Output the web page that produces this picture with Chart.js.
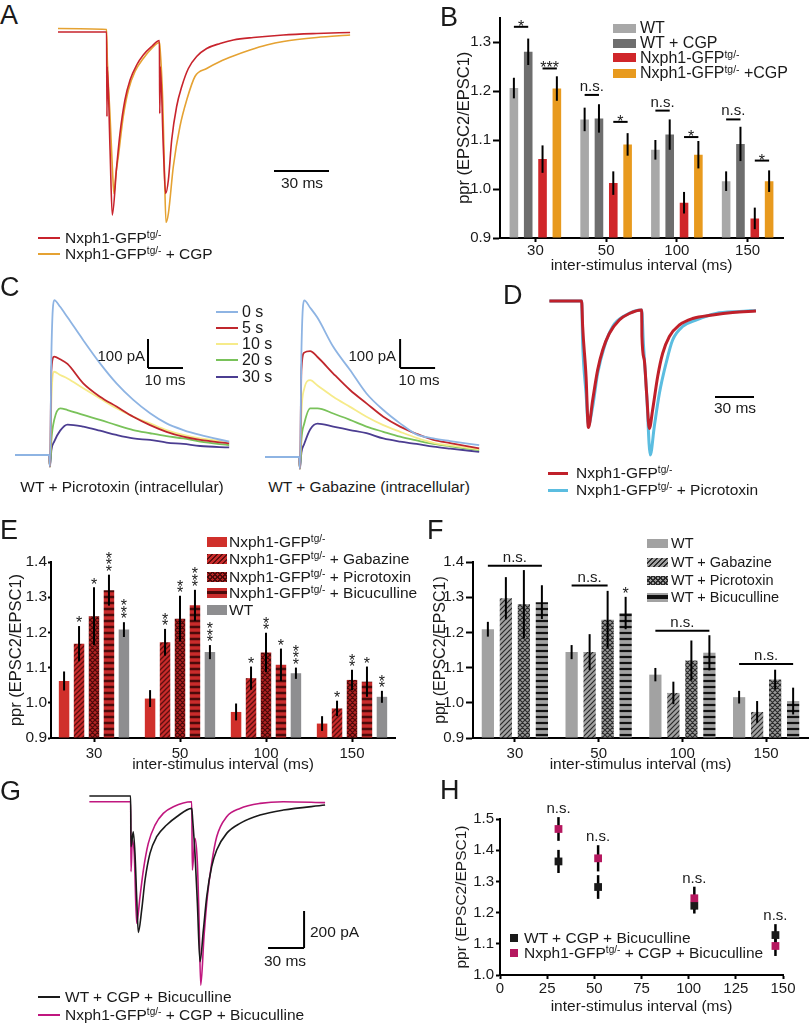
<!DOCTYPE html>
<html>
<head>
<meta charset="utf-8">
<script src="https://cdn.jsdelivr.net/npm/chart.js@4.4.0/dist/chart.umd.min.js"></script>
<style>
  body { margin: 0; width: 812px; height: 1025px; position: relative; overflow: hidden; background: #fff;
         font-family: 'Liberation Sans', Arial, Helvetica, sans-serif; color: #1a1a1a; }
  canvas { position: absolute; }
  .t { position: absolute; white-space: nowrap; line-height: 1; }
  .sw { position: absolute; }
  .L { position: absolute; font-size: 27px; line-height: 1; }
  sup { font-size: 0.65em; line-height: 0; vertical-align: 0.5em; }
</style>
</head>
<body>
<script>
const FONT = "'Liberation Sans', Arial, Helvetica, sans-serif";
Chart.defaults.font.family = FONT;
Chart.defaults.color = '#1a1a1a';

// ---------- A: traces (ms, pA) ----------
const aRedT = [0, 26.5, 26.7, 26.9, 28.4, 29.6, 32.0, 33.8, 36.5, 39.3, 42.9, 46.5, 51.1, 55.3, 55.5, 55.8, 57.5, 58.7, 60.2, 62.0, 64.7, 67.5, 71.1, 75.6, 81.1, 88.4, 95.6, 106.5, 122.9, 141.1, 159.3];
const aRedI = [0, 0, -169, -69, -236, -366, -269, -203, -136, -96, -66, -46, -29, -17, -163, -69, -236, -323, -296, -216, -149, -109, -73, -49, -33, -23, -16, -11, -6, -3, -1];
const aCgpT = [0, 26.5, 26.9, 28.4, 29.8, 30.5, 31.6, 32.9, 35.6, 38.4, 42.0, 46.5, 51.1, 55.3, 55.6, 57.1, 58.0, 58.9, 60.2, 62.9, 66.5, 70.2, 74.7, 81.1, 88.4, 95.6, 104.7, 113.8, 122.9, 141.1, 159.3];
const aCgpI = [7, 5, -56, -169, -283, -323, -283, -249, -169, -116, -79, -53, -33, -21, -29, -136, -269, -381, -363, -269, -189, -136, -89, -73, -59, -48, -36, -26, -19, -11, -6];

// ---------- B: bars ----------
const intervals = ['30', '50', '100', '150'];
const bWT = [1.206, 1.142, 1.080, 1.016];
const bWTErr = [0.021, 0.024, 0.020, 0.020];
const bCGP = [1.280, 1.144, 1.111, 1.092];
const bCGPErr = [0.027, 0.029, 0.031, 0.035];
const bNx = [1.061, 1.012, 0.972, 0.940];
const bNxErr = [0.028, 0.024, 0.022, 0.022];
const bNxCGP = [1.205, 1.091, 1.070, 1.016];
const bNxCGPErr = [0.025, 0.023, 0.028, 0.022];
// [interval index, first bar, last bar, height, label]
const bSig = [[0, 0, 1, 1.331, '*'], [0, 2, 3, 1.246, '***'], [1, 0, 1, 1.192, 'n.s.'], [1, 2, 3, 1.137, '*'],
              [2, 0, 1, 1.160, 'n.s.'], [2, 2, 3, 1.106, '*'], [3, 0, 1, 1.142, 'n.s.'], [3, 2, 3, 1.058, '*']];

// ---------- C: traces (ms, pA) ----------
const cTime = [-10, -0.3, 0, 0.4, 1.2, 2.9, 5, 9.5, 14.3, 19, 23.8, 28.6, 33.3, 38.1, 42.9, 51.2];
const cPic0 = [0, 0, -40, 350, 534, 511, 475, 396, 316, 247, 190, 144, 109, 86, 69, 46];
const cPic5 = [0, 0, -40, 293, 339, 330, 314, 247, 201, 167, 132, 103, 80, 63, 52, 40];
const cPic10 = [0, 0, -40, 190, 287, 276, 264, 230, 195, 161, 132, 109, 86, 69, 57, 46];
const cPic20 = [0, 0, -40, 52, 121, 161, 155, 138, 121, 103, 86, 75, 65, 57, 46, 34];
const cPic30 = [0, 0, -40, 17, 46, 84, 105, 98, 84, 69, 57, 52, 43, 38, 31, 26];
const cGab0 = [0, 0, -40, 360, 540, 515, 480, 380, 300, 219, 162, 116, 78, 64, 55, 41];
const cGab5 = [0, 0, -40, 300, 360, 365, 345, 288, 231, 185, 139, 105, 80, 59, 48, 30];
const cGab10 = [0, 0, -40, 150, 235, 265, 247, 208, 173, 139, 110, 87, 66, 49, 40, 26];
const cGab20 = [0, 0, -40, 60, 115, 168, 168, 150, 128, 105, 87, 70, 57, 45, 37, 24];
const cGab30 = [0, 0, -40, 15, 45, 95, 115, 105, 93, 82, 64, 53, 45, 36, 29, 18];
const cTimes = ['0 s', '5 s', '10 s', '20 s', '30 s'];
const cColors = ['#8eb4e3', '#c0272d', '#f6eb8a', '#79c25a', '#4b3d91'];

// ---------- D: traces (ms, pA) ----------
const dRedT = [0.3, 25.1, 25.9, 28.5, 30.3, 33.6, 37.4, 41.3, 46.4, 54.1, 61.8, 71.3, 71.5, 73.3, 75.1, 77.2, 79.7, 83.6, 87.4, 92.6, 100.3, 110.5, 125.9, 141.3, 159.2];
const dRedI = [0, 0, -51, -151, -253, -198, -138, -98, -65, -38, -25, -18, -71, -118, -185, -255, -218, -151, -105, -71, -48, -35, -28, -23, -20];
const dPicT = [0.3, 25.1, 25.9, 28.5, 30.3, 33.6, 37.4, 42.6, 49.0, 59.2, 71.3, 72.6, 75.1, 77.9, 81.0, 84.9, 90.0, 95.1, 102.8, 113.1, 128.5, 146.4, 159.2];
const dPicI = [0, 0, -85, -185, -248, -211, -145, -91, -51, -28, -18, -85, -185, -308, -251, -185, -125, -78, -51, -38, -25, -21, -19];

// ---------- E: bars ----------
const eNx = [1.062, 1.012, 0.974, 0.941];
const eNxErr = [0.027, 0.024, 0.024, 0.021];
const eGab = [1.168, 1.172, 1.070, 0.984];
const eGabErr = [0.050, 0.038, 0.033, 0.022];
const eGabStars = ['*', '**', '*', '*'];
const ePic = [1.246, 1.239, 1.143, 1.065];
const ePicErr = [0.082, 0.065, 0.056, 0.029];
const ePicStars = ['*', '**', '**', '**'];
const eBic = [1.320, 1.277, 1.108, 1.060];
const eBicErr = [0.044, 0.044, 0.046, 0.043];
const eBicStars = ['***', '***', '*', '*'];
const eWT = [1.208, 1.144, 1.084, 1.017];
const eWTErr = [0.021, 0.020, 0.016, 0.017];
const eWTStars = ['***', '***', '***', '**'];

// ---------- F: bars ----------
const fWT = [1.209, 1.144, 1.080, 1.016];
const fWTErr = [0.021, 0.020, 0.019, 0.018];
const fGab = [1.297, 1.144, 1.028, 0.974];
const fGabErr = [0.060, 0.051, 0.032, 0.031];
const fPic = [1.280, 1.236, 1.120, 1.066];
const fPicErr = [0.097, 0.082, 0.057, 0.028];
const fBic = [1.286, 1.255, 1.142, 1.005];
const fBicErr = [0.048, 0.046, 0.050, 0.038];
const fBicStars = ['', '*', '', ''];
const fSig = [[0, 0, 3, 1.389, 'n.s.'], [1, 0, 2, 1.333, 'n.s.'], [2, 0, 3, 1.205, 'n.s.'], [3, 0, 3, 1.110, 'n.s.']];

// ---------- G: traces (ms, pA) ----------
const gWTT = [0.3, 34.7, 35.0, 36.9, 38.3, 39.7, 41.1, 43.9, 46.7, 50.8, 56.4, 64.7, 73.1, 85.6, 86.4, 88.3, 90.3, 92.5, 95.3, 98.1, 102.2, 106.4, 114.7, 125.8, 142.5, 161.9, 196.7];
const gWTI = [0, 0, -274, -193, -310, -544, -737, -616, -454, -310, -220, -157, -112, -67, -130, -310, -580, -896, -724, -544, -382, -292, -202, -148, -103, -76, -49];
const gNxT = [0.3, 34.7, 35.0, 36.1, 37.8, 39.7, 42.5, 45.3, 49.4, 55.0, 61.9, 70.3, 85.6, 86.1, 88.3, 90.3, 91.7, 93.1, 95.8, 98.6, 102.2, 106.4, 114.7, 125.8, 142.5, 161.9, 196.7];
const gNxI = [-31, -31, -409, -238, -328, -688, -544, -400, -256, -157, -94, -58, -31, -400, -229, -364, -670, -1022, -760, -544, -364, -220, -112, -67, -40, -31, -36];

// ---------- H: points ----------
const hISI = [31, 52, 103, 146];
const hWT = [1.364, 1.282, 1.222, 1.128];
const hWTErr = [0.037, 0.038, 0.025, 0.035];
const hNx = [1.468, 1.374, 1.246, 1.093];
const hNxErr = [0.038, 0.042, 0.037, 0.032];
const hSig = ['n.s.', 'n.s.', 'n.s.', 'n.s.'];

// ---------- helpers ----------
function addCanvas(id, left, top, w, h) {
    const c = document.createElement('canvas');
    c.id = id;
    c.width = w;
    c.height = h;
    c.style.left = left + 'px';
    c.style.top = top + 'px';
    document.body.appendChild(c);
    return c.getContext('2d');
}

function txt(html, x, y, size, align) {
    const d = document.createElement('div');
    d.className = 't';
    d.innerHTML = html;
    d.style.left = x + 'px';
    d.style.top = y + 'px';
    d.style.fontSize = size + 'px';
    const tx = align === 'c' ? '-50%' : align === 'r' ? '-100%' : '0';
    d.style.transform = `translate(${tx}, -50%)`;
    document.body.appendChild(d);
}

function swatch(x, y, w, h, bg) {
    const d = document.createElement('div');
    d.className = 'sw';
    d.style.left = x + 'px';
    d.style.top = (y - h / 2) + 'px';
    d.style.width = w + 'px';
    d.style.height = h + 'px';
    d.style.background = bg;
    document.body.appendChild(d);
}

function letter(ch, x, y) {
    const d = document.createElement('div');
    d.className = 'L';
    d.textContent = ch;
    d.style.left = x + 'px';
    d.style.top = y + 'px';
    d.style.transform = 'translateY(-50%)';
    document.body.appendChild(d);
}

function makePattern(base, line, kind, size, lw) {
    const c = document.createElement('canvas');
    c.width = size;
    c.height = size;
    const g = c.getContext('2d');
    g.fillStyle = base;
    g.fillRect(0, 0, size, size);
    g.strokeStyle = line;
    g.fillStyle = line;
    g.lineWidth = lw;
    const s = size;
    if (kind === 'h') {
        g.fillRect(0, (s - lw) / 2, s, lw);
    } else {
        g.beginPath();
        g.moveTo(0, s); g.lineTo(s, 0);
        g.moveTo(-s / 2, s / 2); g.lineTo(s / 2, -s / 2);
        g.moveTo(s / 2, 1.5 * s); g.lineTo(1.5 * s, s / 2);
        if (kind === 'x') {
            g.moveTo(0, 0); g.lineTo(s, s);
            g.moveTo(-s / 2, s / 2); g.lineTo(s / 2, 1.5 * s);
            g.moveTo(s / 2, -s / 2); g.lineTo(1.5 * s, s / 2);
        }
        g.stroke();
    }
    return g.createPattern(c, 'repeat');
}

function drawErrors(chart, opts) {
    const ctx = chart.ctx, y = chart.scales.y;
    ctx.save();
    ctx.strokeStyle = '#000';
    ctx.lineWidth = opts.width || 2;
    chart.data.datasets.forEach((ds, i) => {
        if (!ds.errors) return;
        chart.getDatasetMeta(i).data.forEach((el, j) => {
            const raw = ds.data[j];
            const v = typeof raw === 'object' ? raw.y : raw;
            ctx.beginPath();
            ctx.moveTo(el.x, y.getPixelForValue(v + ds.errors[j]));
            ctx.lineTo(el.x, y.getPixelForValue(v - ds.errors[j]));
            ctx.stroke();
        });
    });
    ctx.restore();
}

const errorBarPlugin = {
    id: 'errorBars',
    beforeDatasetsDraw(chart, args, opts) { if (opts.under) drawErrors(chart, opts); },
    afterDatasetsDraw(chart, args, opts) { if (!opts.under) drawErrors(chart, opts); }
};

function markText(ctx, text, x, py) {
    ctx.textAlign = 'center';
    ctx.textBaseline = 'alphabetic';
    if (text.indexOf('*') >= 0) {
        ctx.font = '16px ' + FONT;
        ctx.fillText(text, x, py + 5);
    } else {
        ctx.font = '15px ' + FONT;
        ctx.fillText(text, x, py - 4);
    }
}

const sigPlugin = {
    id: 'sig',
    afterDatasetsDraw(chart, args, opts) {
        const ctx = chart.ctx, y = chart.scales.y;
        ctx.save();
        ctx.fillStyle = '#1a1a1a';
        ctx.strokeStyle = '#000';
        ctx.lineWidth = 2;
        (opts.lines || []).forEach(([cat, a, b, v, text]) => {
            const x0 = chart.getDatasetMeta(a).data[cat].x;
            const x1 = chart.getDatasetMeta(b).data[cat].x;
            const py = y.getPixelForValue(v);
            ctx.beginPath();
            ctx.moveTo(x0, py);
            ctx.lineTo(x1, py);
            ctx.stroke();
            markText(ctx, text, (x0 + x1) / 2, py);
        });
        // stars stacked above single bars
        chart.data.datasets.forEach((ds, i) => {
            if (!ds.stars) return;
            chart.getDatasetMeta(i).data.forEach((el, j) => {
                const top = y.getPixelForValue(ds.data[j] + ds.errors[j]);
                ctx.font = '16px ' + FONT;
                ctx.textAlign = 'center';
                ctx.textBaseline = 'alphabetic';
                for (let k = 0; k < ds.stars[j].length; k++) {
                    ctx.fillText('*', el.x, top - 7 - k * 6.5 + 9.3);
                }
            });
        });
        // labels above groups of points
        if (opts.above) {
            const meta0 = chart.getDatasetMeta(0);
            opts.above.forEach((text, j) => {
                let top = Infinity;
                chart.data.datasets.forEach(ds => {
                    top = Math.min(top, y.getPixelForValue(ds.data[j].y + ds.errors[j]));
                });
                markText(ctx, text, meta0.data[j].x, top);
            });
        }
        ctx.restore();
    }
};

const scaleBarPlugin = {
    id: 'scaleBar',
    afterDatasetsDraw(chart, args, opts) {
        const {ctx, scales: {x, y}} = chart;
        ctx.save();
        ctx.strokeStyle = '#000';
        ctx.lineWidth = 2;
        (opts.bars || []).forEach(b => {
            ctx.beginPath();
            ctx.moveTo(x.getPixelForValue(b[0]), y.getPixelForValue(b[1]));
            ctx.lineTo(x.getPixelForValue(b[2]), y.getPixelForValue(b[3]));
            ctx.stroke();
        });
        ctx.restore();
    }
};

function traceChart(id, box, xr, yr, series, bars) {
    const ctx = addCanvas(id, box[0], box[1], box[2], box[3]);
    return new Chart(ctx, {
        type: 'scatter',
        data: {
            datasets: series.map(s => ({
                data: s.t.map((t, i) => ({x: t, y: s.i[i]})),
                showLine: true,
                borderColor: s.color,
                borderWidth: s.width,
                pointRadius: 0,
                cubicInterpolationMode: 'monotone',
                fill: false
            }))
        },
        options: {
            responsive: false, animation: false, devicePixelRatio: 1, events: [],
            layout: {padding: 0},
            plugins: {legend: {display: false}, tooltip: {enabled: false}, scaleBar: {bars: bars}},
            scales: {
                x: {type: 'linear', display: false, min: xr[0], max: xr[1]},
                y: {type: 'linear', display: false, min: yr[0], max: yr[1]}
            }
        },
        plugins: [scaleBarPlugin]
    });
}

function barChart(id, box, opt) {
    const ctx = addCanvas(id, box.left, box.top, box.w, box.h);
    return new Chart(ctx, {
        type: 'bar',
        data: {
            labels: intervals,
            datasets: opt.series.map(s => ({
                label: s.label, data: s.data, errors: s.err, stars: s.stars,
                backgroundColor: s.color, borderWidth: 0, base: 0.9,
                categoryPercentage: opt.catPct, barPercentage: opt.barPct
            }))
        },
        options: {
            responsive: false, animation: false, devicePixelRatio: 1, events: [],
            layout: {padding: {left: 0, top: box.padT, right: box.padR, bottom: 0}},
            plugins: {
                legend: {display: false}, tooltip: {enabled: false},
                errorBars: {width: 2}, sig: {lines: opt.lines || []}
            },
            scales: {
                x: {
                    grid: {display: true, offset: false, drawOnChartArea: false, tickLength: 4, tickColor: '#000', tickWidth: 2},
                    border: {color: '#000', width: 2},
                    ticks: {font: {size: 15}, padding: opt.xTickPad},
                    title: {display: true, text: 'inter-stimulus interval (ms)', font: {size: 15.5}, padding: {top: 0, bottom: opt.xTitlePad}},
                    afterFit: s => { s.height = box.xH; s.paddingLeft = 0; s.paddingRight = 0; }
                },
                y: {
                    min: 0.9, max: opt.yMax,
                    grid: {display: true, drawOnChartArea: false, tickLength: opt.yTick, tickColor: '#000', tickWidth: 2},
                    border: {color: '#000', width: 2},
                    ticks: {stepSize: 0.1, includeBounds: false, font: {size: opt.yFont}, padding: opt.yTickPad, callback: v => v.toFixed(1)},
                    title: {display: true, text: 'ppr (EPSC2/EPSC1)', font: {size: opt.yTitleSize}, padding: {top: opt.yTitlePad, bottom: 0}},
                    afterFit: s => { s.width = box.yW; s.paddingTop = 0; s.paddingBottom = 0; }
                }
            }
        },
        plugins: [errorBarPlugin, sigPlugin]
    });
}

const NX = 'Nxph1-GFP<sup>tg/-</sup>';

// ---------- A ----------
traceChart('chartA', [50, 20, 310, 210], [-4.36, 164.7], [-396, 24], [
    {t: aRedT, i: aRedI, color: '#c8232c', width: 1.6},
    {t: aCgpT, i: aCgpI, color: '#e5a232', width: 1.6}
], [[117.8, -278, 147.8, -278]]);
letter('A', 0, 15);
txt('30 ms', 302, 183, 15.5, 'c');
swatch(38, 238, 22, 2.5, '#c8232c');
swatch(38, 254, 22, 2.5, '#e5a232');
txt(NX, 65, 238, 15.5);
txt(NX + ' + CGP', 65, 254, 15.5);

// ---------- B ----------
barChart('chartB', {left: 440, top: 0, w: 372, h: 280, yW: 60, padT: 17.5, padR: 29, xH: 42}, {
    series: [
        {label: 'WT', data: bWT, err: bWTErr, color: '#a8a8a8'},
        {label: 'WT + CGP', data: bCGP, err: bCGPErr, color: '#6e6e6e'},
        {label: 'Nxph1-GFP tg/-', data: bNx, err: bNxErr, color: '#d0262a'},
        {label: 'Nxph1-GFP tg/- +CGP', data: bNxCGP, err: bNxCGPErr, color: '#e89a1e'}
    ],
    lines: bSig, catPct: 0.81, barPct: 0.6, yMax: 1.35,
    yTick: 7, yTickPad: 2, yFont: 15, yTitleSize: 16.5, yTitlePad: 14.1, xTickPad: 0, xTitlePad: 4.7
});
letter('B', 440, 16.5);
[['#a8a8a8', 'WT'], ['#6e6e6e', 'WT + CGP'], ['#d0262a', NX], ['#e89a1e', NX + ' +CGP']].forEach((r, k) => {
    const yy = [28, 43, 57.5, 73][k];
    swatch(613, yy, 23, 9, r[0]);
    txt(r[1], 640, yy, 16);
});

// ---------- C ----------
traceChart('chartC1', [10, 290, 225, 185], [-11.43, 52.86], [-69, 569],
    [cPic0, cPic5, cPic10, cPic20, cPic30].map((s, k) => ({t: cTime, i: s, color: cColors[k], width: 1.8})),
    [[28, 400, 28, 300], [28, 300, 38, 300]]);
traceChart('chartC2', [262, 290, 225, 185], [-10.86, 53.43], [-62, 576],
    [cGab0, cGab5, cGab10, cGab20, cGab30].map((s, k) => ({t: cTime, i: s, color: cColors[k], width: 1.8})),
    [[28.6, 407, 28.6, 307], [28.6, 307, 38.6, 307]]);
letter('C', 0, 287);
cTimes.forEach((s, k) => {
    const yy = [312, 328, 344, 360, 377][k];
    swatch(216, yy, 22, 2.5, cColors[k]);
    txt(s, 242, yy, 16);
});
txt('100 pA', 145, 355, 15, 'r');
txt('10 ms', 165, 379, 15, 'c');
txt('100 pA', 396, 355, 15, 'r');
txt('10 ms', 419, 379, 15, 'c');
txt('WT + Picrotoxin (intracellular)', 122, 487, 15.5, 'c');
txt('WT + Gabazine (intracellular)', 369, 487, 15.5, 'c');

// ---------- D ----------
traceChart('chartD', [540, 290, 230, 175], [-6.92, 170], [-328, 22], [
    {t: dRedT, i: dRedI, color: '#c0202a', width: 3},
    {t: dPicT, i: dPicI, color: '#5bbde0', width: 3}
], [[127.7, -192, 157.7, -192]]);
letter('D', 503, 295);
txt('30 ms', 735, 408, 15.5, 'c');
swatch(548, 473, 20, 3, '#c0202a');
swatch(548, 490, 20, 3, '#5bbde0');
txt(NX, 576, 473, 15.5);
txt(NX + ' + Picrotoxin', 576, 490, 15.5);

// ---------- E ----------
const eRed = '#c92b2b', eDark = '#5c0f0f';
barChart('chartE', {left: 0, top: 540, w: 406, h: 240, yW: 51, padT: 22, padR: 11, xH: 42}, {
    series: [
        {label: 'Nxph1-GFP tg/-', data: eNx, err: eNxErr, color: '#d0302b'},
        {label: '+ Gabazine', data: eGab, err: eGabErr, stars: eGabStars, color: makePattern(eRed, eDark, 'd', 5, 1.3)},
        {label: '+ Picrotoxin', data: ePic, err: ePicErr, stars: ePicStars, color: makePattern('#b52424', '#4a0a0a', 'x', 5, 1.2)},
        {label: '+ Bicuculline', data: eBic, err: eBicErr, stars: eBicStars, color: makePattern(eRed, '#4a0a0a', 'h', 6, 2.5)},
        {label: 'WT', data: eWT, err: eWTErr, stars: eWTStars, color: '#8e8e90'}
    ],
    catPct: 0.87, barPct: 0.7, yMax: 1.4,
    yTick: 3, yTickPad: 1, yFont: 15.5, yTitleSize: 16.5, yTitlePad: 6.6, xTickPad: 3, xTitlePad: 5.7
});
letter('E', 0, 530);
[
    ['#d0302b', NX],
    [`repeating-linear-gradient(135deg, ${eDark} 0 1.2px, ${eRed} 1.2px 3.5px)`, NX + ' + Gabazine'],
    ['repeating-linear-gradient(45deg, #4a0a0a 0 1.2px, transparent 1.2px 3.5px), repeating-linear-gradient(135deg, #4a0a0a 0 1.2px, #b52424 1.2px 3.5px)', NX + ' + Picrotoxin'],
    [`linear-gradient(${eRed} 0 3.5px, #4a0a0a 3.5px 6.5px, ${eRed} 6.5px)`, NX + ' + Bicuculline'],
    ['#8e8e90', 'WT']
].forEach((r, k) => {
    const yy = [542, 559, 576.5, 593, 610][k];
    swatch(207, yy, 20, 10, r[0]);
    txt(r[1], 229, yy, 15.5);
});

// ---------- F ----------
const fGray = '#a2a2a2', fDark = '#2a2a2a';
barChart('chartF', {left: 420, top: 540, w: 392, h: 240, yW: 53, padT: 22, padR: 4, xH: 42}, {
    series: [
        {label: 'WT', data: fWT, err: fWTErr, color: fGray},
        {label: 'WT + Gabazine', data: fGab, err: fGabErr, color: makePattern(fGray, fDark, 'd', 5, 1.2)},
        {label: 'WT + Picrotoxin', data: fPic, err: fPicErr, color: makePattern('#9a9a9a', fDark, 'x', 5, 1.1)},
        {label: 'WT + Bicuculline', data: fBic, err: fBicErr, stars: fBicStars, color: makePattern(fGray, '#111', 'h', 6, 2.2)}
    ],
    lines: fSig, catPct: 0.86, barPct: 0.68, yMax: 1.4,
    yTick: 7, yTickPad: 2, yFont: 15, yTitleSize: 16, yTitlePad: 11.4, xTickPad: 3, xTitlePad: 5.7
});
letter('F', 427, 530);
[
    [fGray, 'WT'],
    [`repeating-linear-gradient(135deg, ${fDark} 0 1.2px, ${fGray} 1.2px 3.5px)`, 'WT + Gabazine'],
    [`repeating-linear-gradient(45deg, ${fDark} 0 1.1px, transparent 1.1px 3.5px), repeating-linear-gradient(135deg, ${fDark} 0 1.1px, #9a9a9a 1.1px 3.5px)`, 'WT + Picrotoxin'],
    [`linear-gradient(${fGray} 0 2.5px, #111 2.5px 6.5px, ${fGray} 6.5px)`, 'WT + Bicuculline']
].forEach((r, k) => {
    const yy = [543, 562, 580, 597][k];
    swatch(647, yy, 21, 9, r[0]);
    txt(r[1], 671, yy, 14.5);
});

// ---------- G ----------
traceChart('chartG', [80, 785, 250, 205], [-7.5, 200.8], [-1048.6, 59.5], [
    {t: gWTT, i: gWTI, color: '#1a1a1a', width: 1.6},
    {t: gNxT, i: gNxI, color: '#c0177f', width: 1.6}
], [[179.2, -621.6, 179.2, -821.6], [149.2, -821.6, 179.2, -821.6]]);
letter('G', 0, 791);
txt('200 pA', 310, 932, 15.5);
txt('30 ms', 285, 961, 15.5, 'c');
swatch(38, 997, 22, 2.5, '#1a1a1a');
swatch(38, 1015, 22, 2.5, '#c0177f');
txt('WT + CGP + Bicuculline', 65, 997, 15.5);
txt(NX + ' + CGP + Bicuculline', 65, 1015, 15.5);

// ---------- H ----------
new Chart(addCanvas('chartH', 420, 790, 392, 235), {
    type: 'scatter',
    data: {
        datasets: [
            {label: 'Nxph1-GFP tg/- + CGP + Bicuculline', data: hISI.map((x, i) => ({x: x, y: hNx[i]})), errors: hNxErr,
             pointStyle: 'rect', pointRadius: 5.5, backgroundColor: '#b5185f', borderColor: '#b5185f', borderWidth: 0},
            {label: 'WT + CGP + Bicuculline', data: hISI.map((x, i) => ({x: x, y: hWT[i]})), errors: hWTErr,
             pointStyle: 'rect', pointRadius: 5.5, backgroundColor: '#1a1a1a', borderColor: '#1a1a1a', borderWidth: 0}
        ]
    },
    options: {
        responsive: false, animation: false, devicePixelRatio: 1, events: [],
        layout: {padding: {left: 0, top: 29, right: 29, bottom: 0}},
        plugins: {legend: {display: false}, tooltip: {enabled: false}, errorBars: {width: 2.5, under: true}, sig: {above: hSig}},
        scales: {
            x: {
                type: 'linear', min: 0, max: 150,
                grid: {display: true, drawOnChartArea: false, tickLength: 4, tickColor: '#000', tickWidth: 2},
                border: {color: '#000', width: 2},
                ticks: {stepSize: 25, font: {size: 15}, padding: 1},
                title: {display: true, text: 'inter-stimulus interval (ms)', font: {size: 15.5}, padding: {top: 0, bottom: 8.7}},
                afterFit: s => { s.height = 50; s.paddingLeft = 0; s.paddingRight = 0; }
            },
            y: {
                min: 1.0, max: 1.5,
                grid: {display: true, drawOnChartArea: false, tickLength: 4, tickColor: '#000', tickWidth: 2},
                border: {color: '#000', width: 2},
                ticks: {stepSize: 0.1, font: {size: 15}, padding: 2, callback: v => v.toFixed(1)},
                title: {display: true, text: 'ppr (EPSC2/EPSC1)', font: {size: 15.5}, padding: {top: 32.7, bottom: 0}},
                afterFit: s => { s.width = 80; s.paddingTop = 0; s.paddingBottom = 0; }
            }
        }
    },
    plugins: [errorBarPlugin, sigPlugin]
});
letter('H', 440, 790);
swatch(510, 938, 8, 8, '#1a1a1a');
swatch(510, 953, 8, 8, '#b5185f');
txt('WT + CGP + Bicuculline', 524, 938, 15.5);
txt(NX + ' + CGP + Bicuculline', 524, 953, 15.5);
</script>
</body>
</html>
